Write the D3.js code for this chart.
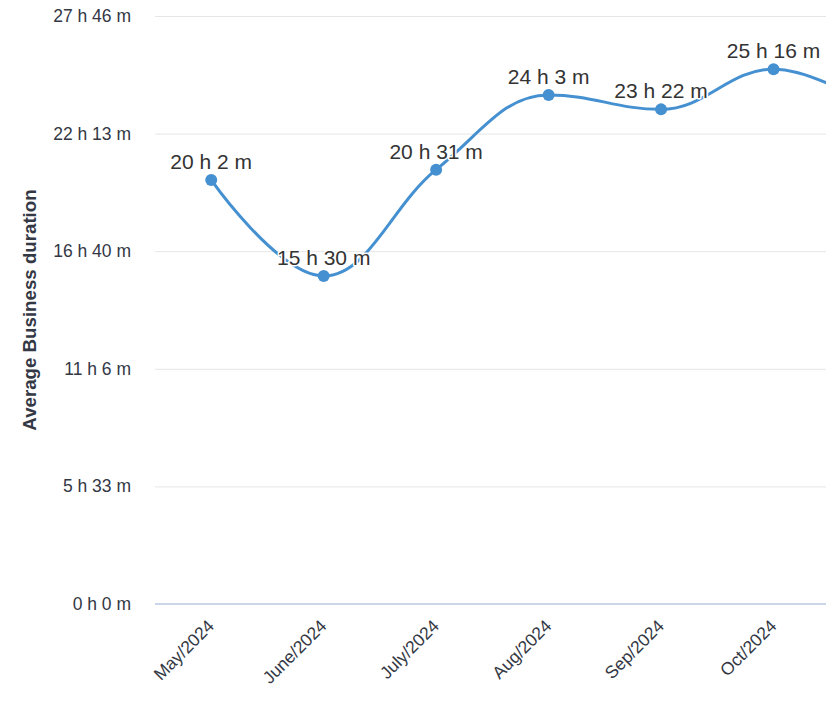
<!DOCTYPE html>
<html>
<head>
<meta charset="utf-8">
<script src="https://cdn.jsdelivr.net/npm/d3@7/dist/d3.min.js"></script>
<style>
  html, body { margin: 0; padding: 0; background: #fff; overflow: hidden; }
  svg { display: block; font-family: "Liberation Sans", Arial, Helvetica, sans-serif; }
</style>
</head>
<body>
<svg id="chart" width="826" height="720"></svg>
<script>
// ---- data ----
const categories = ["May/2024", "June/2024", "July/2024", "Aug/2024", "Sep/2024", "Oct/2024", "Nov/2024"];
// average business duration in minutes (Nov lies beyond the visible right edge)
const durationMinutes = [1202, 930, 1231, 1443, 1402, 1516, 1383];
const yTickMinutes = [0, 333.333, 666.667, 1000, 1333.333, 1666.667];
const yTitle = "Average Business duration";

function fmt(mins) {
  const total = Math.floor(mins + 1e-6);
  const h = Math.floor(total / 60), m = total % 60;
  return h + " h " + m + " m";
}

const W = 826;
const svg = d3.select("#chart");
const plotLeft = 155, plotTop = 16, plotBottom = 604;
const step = 112.46;

const x = d3.scalePoint().domain(categories)
  .range([plotLeft, plotLeft + step * categories.length]).padding(0.5);
const y = d3.scaleLinear().domain([0, 1666.667]).range([plotBottom, plotTop]);

const visibleCats = categories.filter(c => x(c) < W);

// grid lines
svg.append("g").selectAll("line").data(yTickMinutes.slice(1)).join("line")
  .attr("x1", plotLeft).attr("x2", W)
  .attr("y1", d => y(d) + 0.5).attr("y2", d => y(d) + 0.5)
  .attr("stroke", "#e6e6e6").attr("stroke-width", 1);

// bottom axis line
svg.append("line").attr("x1", plotLeft).attr("x2", W)
  .attr("y1", y(0)).attr("y2", y(0))
  .attr("stroke", "#ccd6eb").attr("stroke-width", 2);

// y tick labels
svg.append("g").selectAll("text").data(yTickMinutes).join("text")
  .attr("x", 131).attr("y", d => y(d) + 6)
  .attr("text-anchor", "end").attr("font-size", 17.5).attr("fill", "#333844")
  .text(d => fmt(d));

// y axis title
svg.append("text")
  .attr("transform", `translate(36,${(plotTop + plotBottom) / 2}) rotate(-90)`)
  .attr("text-anchor", "middle").attr("font-size", 18.7).attr("font-weight", "bold")
  .attr("fill", "#333844").text(yTitle);

// x labels
svg.append("g").selectAll("text").data(visibleCats).join("text")
  .attr("transform", d => `translate(${x(d) + 4},${plotBottom + 23}) rotate(-45)`)
  .attr("text-anchor", "end").attr("font-size", 17.5).attr("fill", "#333844")
  .text(d => d);

// Highcharts-style spline
const pts = categories.map((c, i) => ({ px: x(c), py: y(durationMinutes[i]) }));
function splinePath(points) {
  const p = d3.path();
  const smoothing = 1.5, denom = smoothing + 1;
  p.moveTo(points[0].px, points[0].py);
  points.forEach((pt, i) => {
    if (i === 0) return;
    const last = points[i - 1], next = points[i + 1];
    let lcx = pt.px, lcy = pt.py;
    if (next) {
      lcx = (smoothing * pt.px + last.px) / denom;
      lcy = (smoothing * pt.py + last.py) / denom;
      const rcx = (smoothing * pt.px + next.px) / denom;
      let rcy = (smoothing * pt.py + next.py) / denom;
      let corr = 0;
      if (rcx !== lcx) corr = ((rcy - lcy) * (rcx - pt.px)) / (rcx - lcx) + pt.py - rcy;
      lcy += corr; rcy += corr;
      if (lcy > last.py && lcy > pt.py) { lcy = Math.max(last.py, pt.py); rcy = 2 * pt.py - lcy; }
      else if (lcy < last.py && lcy < pt.py) { lcy = Math.min(last.py, pt.py); rcy = 2 * pt.py - lcy; }
      if (rcy > next.py && rcy > pt.py) { rcy = Math.max(next.py, pt.py); lcy = 2 * pt.py - rcy; }
      else if (rcy < next.py && rcy < pt.py) { rcy = Math.min(next.py, pt.py); lcy = 2 * pt.py - rcy; }
      pt.rcx = rcx; pt.rcy = rcy;
    }
    const c1x = last.rcx !== undefined ? last.rcx : last.px;
    const c1y = last.rcy !== undefined ? last.rcy : last.py;
    p.bezierCurveTo(c1x, c1y, lcx, lcy, pt.px, pt.py);
  });
  return p.toString();
}

svg.append("path").attr("d", splinePath(pts))
  .attr("fill", "none").attr("stroke", "#4590d0").attr("stroke-width", 3)
  .attr("stroke-linejoin", "round").attr("stroke-linecap", "round");

// markers
svg.append("g").selectAll("circle").data(pts.filter(p => p.px < W)).join("circle")
  .attr("cx", d => d.px).attr("cy", d => d.py).attr("r", 6)
  .attr("fill", "#4590d0");

// data labels
svg.append("g").selectAll("text").data(visibleCats).join("text")
  .attr("x", d => x(d)).attr("y", d => y(durationMinutes[categories.indexOf(d)]) - 11)
  .attr("text-anchor", "middle").attr("font-size", 21).attr("fill", "#333333")
  .attr("stroke", "#ffffff").attr("stroke-width", 3).attr("paint-order", "stroke")
  .attr("stroke-linejoin", "round")
  .text(d => fmt(durationMinutes[categories.indexOf(d)]));
</script>
</body>
</html>
